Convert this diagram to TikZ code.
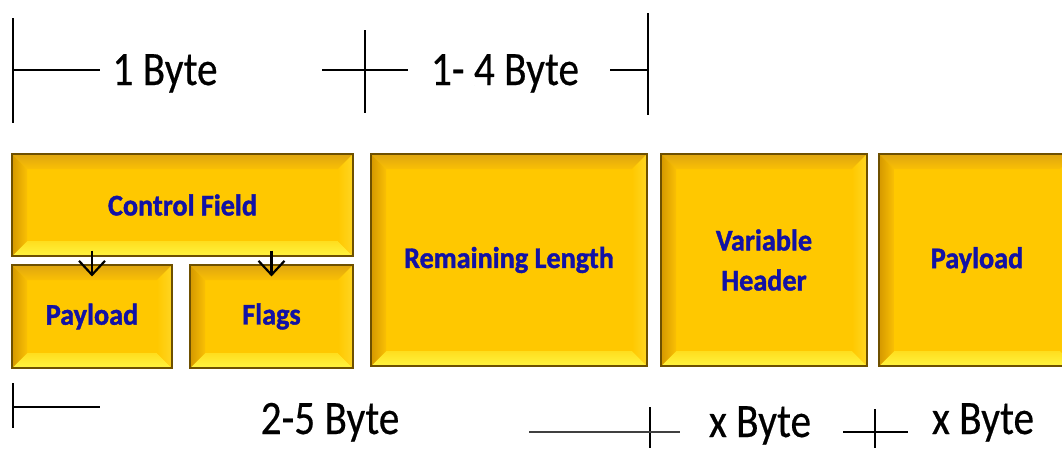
\documentclass[tikz,border=0pt]{standalone}
\usepackage{fontspec}
\setmainfont{Carlito}
\newfontfamily\dimfont[FakeStretch=0.86, FakeBold=0.4]{Carlito}
\newfontfamily\boxfont[FakeStretch=0.94, BoldFeatures={FakeBold=1.3}]{Carlito}
\usetikzlibrary{calc,arrows.meta}

\definecolor{goldface}{RGB}{255,200,0}
\definecolor{goldtop}{RGB}{222,165,16}
\definecolor{goldtopin}{RGB}{250,192,4}
\definecolor{goldleft}{RGB}{212,152,0}
\definecolor{goldright}{RGB}{255,214,34}
\definecolor{goldbot}{RGB}{255,244,64}
\definecolor{goldbotin}{RGB}{255,222,30}
\definecolor{goldedge}{RGB}{110,80,0}
\definecolor{labelblue}{RGB}{18,18,165}

\tikzset{
  bevelbox/.style={
    draw=goldedge, line width=1.1pt, fill=goldface, inner sep=0pt,
    text=labelblue, align=center,
    font=\boxfont\fontsize{30}{40}\selectfont\bfseries,
    path picture={
      \path (path picture bounding box.south west) coordinate (@sw)
            (path picture bounding box.north east) coordinate (@ne);
      \path ($(@sw)+(15pt,15pt)$) coordinate (@isw)
            ($(@ne)+(-15pt,-15pt)$) coordinate (@ine);
      % top bevel
      \shade[top color=goldtop, bottom color=goldtopin]
        (@sw|-@ne) -- (@ne) -- (@ine) -- (@isw|-@ine) -- cycle;
      % bottom bevel
      \shade[top color=goldbotin, bottom color=goldbot]
        (@sw) -- (@ne|-@sw) -- (@ine|-@isw) -- (@isw) -- cycle;
      % left bevel
      \shade[left color=goldleft, right color=goldtopin]
        (@sw) -- (@isw) -- (@isw|-@ine) -- (@sw|-@ne) -- cycle;
      % right bevel
      \shade[left color=goldface, right color=goldright]
        (@ne|-@sw) -- (@ne) -- (@ine) -- (@ine|-@isw) -- cycle;
    }
  },
  dimline/.style={draw=black, line width=1.3pt},
  dimlabel/.style={font=\dimfont\fontsize{48}{52}\selectfont, anchor=base, inner sep=0pt},
  subarrow/.style={draw=black, line width=2.2pt,
    -{Straight Barb[length=14pt,width=26pt,line width=2.2pt]}}
}

\begin{document}
\begin{tikzpicture}[x=1pt,y=-1pt]
  \clip (0,0) rectangle (1062,448);
  \fill[white] (0,0) rectangle (1062,448);

  % header fields
  \node[bevelbox, minimum width=341pt, minimum height=102pt] (ctrl) at (182.5,205) {Control Field};
  \node[bevelbox, minimum width=160pt, minimum height=103pt] (pls)  at (92,316.5)  {Payload};
  \node[bevelbox, minimum width=163pt, minimum height=103pt] (flg)  at (271.5,316.5) {Flags};
  \node[bevelbox, minimum width=276pt, minimum height=212pt] (rem)  at (509,260)   {Remaining Length};
  \node[bevelbox, minimum width=206pt, minimum height=212pt] (var)  at (764,260)   {Variable\\Header};
  \node[bevelbox, minimum width=196pt, minimum height=212pt] (pay)  at (977,260)   {Payload};

  % control field split
  \draw[subarrow] ([yshift=6pt]ctrl.south -| pls.north) -- ([yshift=-12pt]pls.north);
  \draw[subarrow] ([yshift=6pt]ctrl.south -| flg.north) -- ([yshift=-12pt]flg.north);

  % top dimension: 1 Byte | 1- 4 Byte
  \node[dimlabel] (b1) at (165,85) {1 Byte};
  \node[dimlabel] (b14) at (505,85) {1- 4 Byte};
  \coordinate (t0a) at (13,18);   \coordinate (t0b) at (13,123);
  \coordinate (t1a) at (365,30);  \coordinate (t1b) at (365,113);
  \coordinate (t2a) at (648,13);  \coordinate (t2b) at (648,115);
  \coordinate (h0) at (100,70);   \coordinate (h1) at (322,70);
  \coordinate (h2) at (408,70);   \coordinate (h3) at (610,70);
  \draw[dimline] (t0a) -- (t0b);
  \draw[dimline] (t1a) -- (t1b);
  \draw[dimline] (t2a) -- (t2b);
  \draw[dimline] (t0a|-h0) -- (h0);
  \draw[dimline] (h1) -- (h2);
  \draw[dimline] (h3) -- (t2a|-h3);

  % bottom dimension: 2-5 Byte | x Byte | x Byte
  \node[dimlabel] (b25) at (330,434) {2-5 Byte};
  \node[dimlabel] (bx1) at (760,437) {x Byte};
  \node[dimlabel] (bx2) at (983,434) {x Byte};
  \coordinate (u0a) at (13,383);  \coordinate (u0b) at (13,428);
  \coordinate (u1a) at (650,407); \coordinate (u1b) at (650,448);
  \coordinate (u2a) at (875,409); \coordinate (u2b) at (875,448);
  \coordinate (g0) at (100,407);  \coordinate (g1) at (529,432);
  \coordinate (g2) at (680,432);  \coordinate (g3) at (843,432);
  \coordinate (g4) at (908,432);
  \draw[dimline] (u0a) -- (u0b);
  \draw[dimline] (u1a) -- (u1b);
  \draw[dimline] (u2a) -- (u2b);
  \draw[dimline] (u0a|-g0) -- (g0);
  \draw[dimline, draw=black!75, line width=1.8pt] (g1) -- (g2);
  \draw[dimline] (g3) -- (g4);
\end{tikzpicture}
\end{document}
